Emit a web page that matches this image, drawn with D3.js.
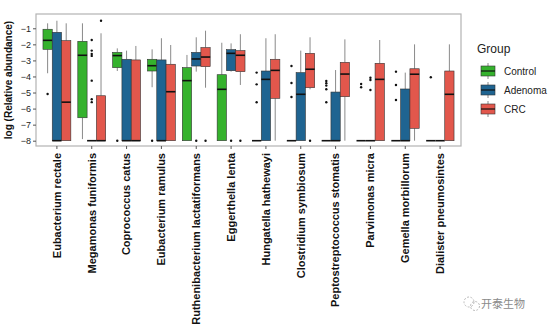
<!DOCTYPE html>
<html>
<head>
<meta charset="utf-8">
<script src="https://cdn.jsdelivr.net/npm/d3@7"></script>
<style>
  body { margin: 0; background: #fff; }
  text { font-family: "Liberation Sans", Arial, sans-serif; }
</style>
</head>
<body>
<div id="chart"></div>
<script>
const categories = [
  'Eubacterium rectale', 'Megamonas funiformis', 'Coprococcus catus',
  'Eubacterium ramulus', 'Ruthenibacterium lactatiformans', 'Eggerthella lenta',
  'Hungatella hathewayi', 'Clostridium symbiosum', 'Peptostreptococcus stomatis',
  'Parvimonas micra', 'Gemella morbillorum', 'Dialister pneumosintes'
]
const groups = ['Control', 'Adenoma', 'CRC']
const groupColors = ['#35b22d', '#1f6491', '#e2574c']
const yTicks = [-1, -2, -3, -4, -5, -6, -7, -8]

// [lower whisker, q1, median, q3, upper whisker] per category
const controlStats = [
  [-3.8, -2.31, -1.75, -1.06, -0.69],
  [-7.9, -6.57, -2.68, -1.81, -0.69],
  [-3.66, -3.45, -2.7, -2.5, -2.25],
  [-4.67, -3.66, -3.33, -2.93, -2.31],
  [-8, -8, -4.26, -3.45, -2.66],
  [-8, -8, -4.8, -3.89, -1.9],
  [-8, -8, -8, -8, -8],
  [-8, -8, -8, -8, -8],
  [-8, -8, -8, -8, -8],
  [-8, -8, -8, -8, -8],
  [-8, -8, -8, -8, -8],
  [-8, -8, -8, -8, -8]
]
const adenomaStats = [
  [-8, -8, -8, -1.25, -0.53],
  [-8, -8, -8, -8, -8],
  [-8, -8, -8, -2.93, -2.39],
  [-8, -8, -8, -2.97, -1.62],
  [-3.7, -3.35, -2.91, -2.5, -1.56],
  [-3.7, -3.64, -2.56, -2.33, -1.94],
  [-8, -8, -4.18, -3.66, -1.62],
  [-8, -8, -5.11, -3.76, -2.39],
  [-8, -8, -8, -4.97, -3.6],
  [-8, -8, -8, -8, -8],
  [-8, -8, -8, -4.78, -3.76],
  [-8, -8, -8, -8, -8]
]
const crcStats = [
  [-8, -8, -5.6, -1.77, -0.69],
  [-8, -8, -8, -5.2, -1.31],
  [-8, -8, -8, -2.97, -2.1],
  [-8, -8, -4.95, -3.24, -2.04],
  [-4.7, -3.39, -2.79, -2.2, -1.15],
  [-4.53, -3.7, -2.68, -2.39, -1.37],
  [-8, -5.36, -3.62, -2.93, -1.37],
  [-4.8, -4.7, -3.55, -2.56, -1.56],
  [-8, -5.26, -3.85, -3.12, -1.69],
  [-8, -8, -4.18, -3.18, -1.73],
  [-8, -7.23, -3.86, -3.52, -2.0],
  [-8, -8, -5.11, -3.66, -2.0]
]

// outlying points per category
const controlOutliers = [
  [-5.09], [], [-8], [-8], [], [],
  [-3.76, -4.49, -5.61], [-3.35, -4.41, -5.28],
  [-4.28, -4.42, -4.57, -4.8, -5.61], [-4.47, -4.67],
  [-3.7, -4.53, -5.47], [-4.05]
]
const adenomaOutliers = [
  [], [-1.73, -2.39, -2.6, -2.72, -4.26, -5.42, -5.6], [], [],
  [-8], [-8], [], [], [], [-4.08, -4.22, -4.84], [], []
]
const crcOutliers = [
  [], [-0.53], [], [], [-8], [-8], [], [-8], [], [], [], []
]

const statsByGroup = [controlStats, adenomaStats, crcStats]
const outliersByGroup = [controlOutliers, adenomaOutliers, crcOutliers]

const width = 549, height = 329
const panel = { left: 36, top: 14, right: 461, bottom: 146 }

const svg = d3.select('#chart').append('svg')
  .attr('width', width)
  .attr('height', height)

const x = d3.scaleBand()
  .domain(categories)
  .range([panel.left, panel.right])
  .paddingInner(0)
  .paddingOuter(0.1)

const dodge = d3.scaleBand()
  .domain(groups)
  .range([-0.4 * x.step(), 0.4 * x.step()])

const y = d3.scaleLinear()
  .domain([-8.33, -0.11])
  .range([panel.bottom, panel.top])

// panel frame
svg.append('rect')
  .attr('x', panel.left)
  .attr('y', panel.top)
  .attr('width', panel.right - panel.left)
  .attr('height', panel.bottom - panel.top)
  .attr('fill', '#fff')
  .attr('stroke', '#b3b3b3')
  .attr('stroke-width', 1.2)

// axes
const yAxis = svg.append('g')
  .attr('transform', `translate(${panel.left},0)`)
  .call(d3.axisLeft(y).tickValues(yTicks).tickSize(3).tickPadding(2))
yAxis.select('.domain').remove()
yAxis.selectAll('.tick line').attr('stroke', '#555')
yAxis.selectAll('.tick text')
  .attr('fill', '#222')
  .style('font-size', '9px')

const xAxis = svg.append('g')
  .attr('transform', `translate(0,${panel.bottom})`)
  .call(d3.axisBottom(x).tickSize(3).tickPadding(4))
xAxis.select('.domain').remove()
xAxis.selectAll('.tick line').attr('stroke', '#555')
xAxis.selectAll('.tick text')
  .attr('fill', '#111')
  .style('font-size', '11px')
  .style('font-weight', 'bold')
  .attr('transform', 'rotate(-90)')
  .attr('text-anchor', 'end')
  .attr('x', -7)
  .attr('y', 0)
  .attr('dy', '0.35em')

svg.append('text')
  .attr('transform', `translate(12,${(panel.top + panel.bottom) / 2}) rotate(-90)`)
  .attr('text-anchor', 'middle')
  .style('font-size', '10px')
  .style('font-weight', 'bold')
  .attr('fill', '#111')
  .text('log (Relative abundance)')

// boxes
const boxes = []
groups.forEach(function(g, gi) {
  categories.forEach(function(c, ci) {
    const s = statsByGroup[gi][ci]
    boxes.push({
      group: g, color: groupColors[gi],
      cx: x(c) + x.step() / 2 + dodge(g) + dodge.bandwidth() / 2,
      lo: s[0], q1: s[1], med: s[2], q3: s[3], hi: s[4],
      outliers: outliersByGroup[gi][ci]
    })
  })
})

const bw = dodge.bandwidth()
const node = svg.selectAll('.box')
  .data(boxes)
  .enter()
  .append('g')
  .attr('class', 'box')

node.append('line')
  .attr('x1', d => d.cx).attr('x2', d => d.cx)
  .attr('y1', d => y(d.hi)).attr('y2', d => y(d.q3))
  .attr('stroke', '#8a8a8a').attr('stroke-width', 1)
node.append('line')
  .attr('x1', d => d.cx).attr('x2', d => d.cx)
  .attr('y1', d => y(d.q1)).attr('y2', d => y(d.lo))
  .attr('stroke', '#8a8a8a').attr('stroke-width', 1)

node.append('rect')
  .attr('x', d => d.cx - bw / 2)
  .attr('y', d => y(d.q3))
  .attr('width', bw)
  .attr('height', d => Math.max(0, y(d.q1) - y(d.q3)))
  .attr('fill', d => d.color)
  .attr('stroke', '#333')
  .attr('stroke-width', 0.6)

node.append('line')
  .attr('x1', d => d.cx - bw / 2).attr('x2', d => d.cx + bw / 2)
  .attr('y1', d => y(d.med)).attr('y2', d => y(d.med))
  .attr('stroke', '#111').attr('stroke-width', 1.6)

node.selectAll('circle')
  .data(d => d.outliers.map(v => ({ cx: d.cx, v: v })))
  .enter()
  .append('circle')
  .attr('cx', d => d.cx)
  .attr('cy', d => y(d.v))
  .attr('r', 1.2)
  .attr('fill', '#111')

// legend
const legend = svg.append('g').attr('transform', 'translate(477,0)')
legend.append('text')
  .attr('x', 0).attr('y', 53)
  .style('font-size', '12px')
  .attr('fill', '#222')
  .text('Group')

const item = legend.selectAll('.item')
  .data(groups)
  .enter()
  .append('g')
  .attr('class', 'item')
  .attr('transform', (d, i) => `translate(0,${66 + i * 19})`)

item.append('line')
  .attr('x1', 11).attr('x2', 11).attr('y1', -3).attr('y2', 13)
  .attr('stroke', '#8a8a8a')
item.append('rect')
  .attr('x', 4).attr('y', 0).attr('width', 14).attr('height', 10)
  .attr('fill', (d, i) => groupColors[i])
  .attr('stroke', '#333').attr('stroke-width', 0.6)
item.append('line')
  .attr('x1', 4).attr('x2', 18).attr('y1', 5).attr('y2', 5)
  .attr('stroke', '#111').attr('stroke-width', 1.2)
item.append('text')
  .attr('x', 27).attr('y', 5).attr('dy', '0.35em')
  .style('font-size', '10px')
  .attr('fill', '#222')
  .text(d => d)

// account mark
const mark = svg.append('g').attr('transform', 'translate(464,304)')
mark.append('circle').attr('cx', 5).attr('cy', -2).attr('r', 5)
  .attr('fill', 'none').attr('stroke', '#bbb').attr('stroke-dasharray', '2,1.5')
mark.append('circle').attr('cx', 11).attr('cy', 2).attr('r', 4.5)
  .attr('fill', 'none').attr('stroke', '#bbb').attr('stroke-dasharray', '2,1.5')
mark.append('text')
  .attr('x', 17).attr('y', 0).attr('dy', '0.35em')
  .style('font-family', '"Noto Sans CJK SC", sans-serif')
  .style('font-size', '11px')
  .attr('fill', '#8a8a8a')
  .text('开泰生物')
</script>
</body>
</html>
